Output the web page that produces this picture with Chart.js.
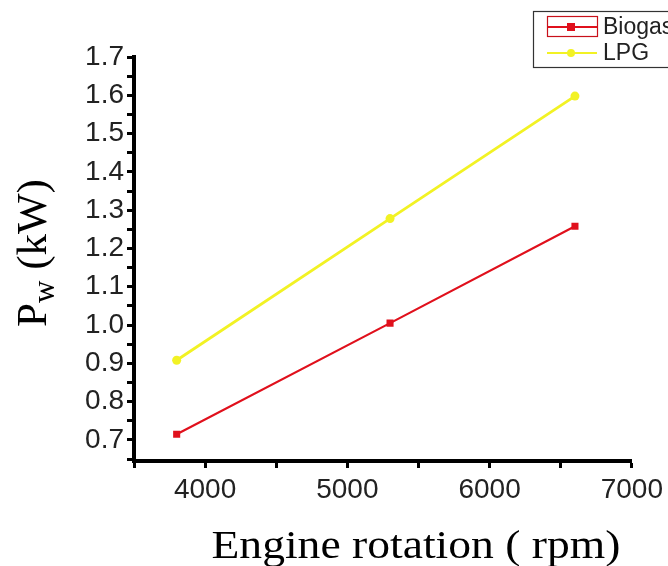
<!DOCTYPE html>
<html>
<head>
<meta charset="utf-8">
<script src="https://cdn.jsdelivr.net/npm/chart.js@4.4.1/dist/chart.umd.min.js"></script>
<style>
html,body{margin:0;padding:0;background:#fff;}
canvas{display:block;}
</style>
</head>
<body>
<canvas id="c" width="668" height="566"></canvas>
<script>
// ---- data ----
const engineRpm = [3800, 5300, 6600];
const biogasPw = [0.715, 1.005, 1.258];
const lpgPw = [0.908, 1.278, 1.598];
const xTickValues = [3500, 4000, 4500, 5000, 5500, 6000, 6500, 7000];
const yTickValues = [0.65, 0.70, 0.75, 0.80, 0.85, 0.90, 0.95, 1.00, 1.05, 1.10, 1.15, 1.20, 1.25, 1.30, 1.35, 1.40, 1.45, 1.50, 1.55, 1.60, 1.65, 1.70];
const seriesNames = ['Biogas', 'LPG'];
const xTitle = 'Engine rotation ( rpm)';
const yTitleMain = 'P';
const yTitleSub = 'w';
const yTitleRest = ' (kW)';

const RED = '#e0101c';
const YELLOW = '#f2f224';

const titlesPlugin = {
  id: 'titles',
  afterDraw(chart) {
    const ctx = chart.ctx;
    ctx.save();
    ctx.fillStyle = '#000';
    // x title
    ctx.font = '40px "Liberation Serif"';
    ctx.textAlign = 'center';
    ctx.textBaseline = 'alphabetic';
    ctx.save();
    ctx.translate(416, 558);
    ctx.scale(1.14, 1);
    ctx.fillText(xTitle, 0, 0);
    ctx.restore();
    // y title (rotated)
    ctx.save();
    const mainFont = '43px "Liberation Serif"';
    const subFont = '31px "Liberation Serif"';
    ctx.font = mainFont;
    const wP = ctx.measureText(yTitleMain).width;
    const wR = ctx.measureText(yTitleRest).width;
    ctx.font = subFont;
    const wS = ctx.measureText(yTitleSub).width;
    const total = wP + wS + wR;
    ctx.translate(46, 253 + total / 2);
    ctx.rotate(-Math.PI / 2);
    ctx.textAlign = 'left';
    ctx.textBaseline = 'alphabetic';
    ctx.font = mainFont;
    ctx.fillText(yTitleMain, 0, 0);
    ctx.font = subFont;
    ctx.fillText(yTitleSub, wP, 8);
    ctx.font = mainFont;
    ctx.fillText(yTitleRest, wP + wS, 0);
    ctx.restore();
    ctx.restore();
  }
};

const legendPlugin = {
  id: 'customLegend',
  afterDraw(chart) {
    const ctx = chart.ctx;
    ctx.save();
    ctx.strokeStyle = '#333';
    ctx.lineWidth = 1.2;
    ctx.strokeRect(533.5, 11.5, 150, 56);
    const rows = [27, 53];
    chart.data.datasets.forEach((ds, i) => {
      const y = rows[i];
      ctx.strokeStyle = ds.borderColor;
      ctx.lineWidth = 2;
      ctx.beginPath();
      ctx.moveTo(547, y);
      ctx.lineTo(597, y);
      ctx.stroke();
      ctx.fillStyle = ds.backgroundColor;
      if (ds.pointStyle === 'rect') {
        ctx.fillRect(567, y - 4, 8, 8);
        ctx.strokeStyle = '#c8101a';
        ctx.lineWidth = 1.2;
        ctx.strokeRect(547.5, 16.5, 50, 20);
      } else {
        ctx.beginPath();
        ctx.arc(571, y, 4, 0, Math.PI * 2);
        ctx.fill();
      }
      ctx.fillStyle = '#222';
      ctx.font = '23px "Liberation Sans"';
      ctx.textAlign = 'left';
      ctx.textBaseline = 'middle';
      ctx.fillText(ds.label, 603, y + 1);
    });
    ctx.restore();
  }
};

const tickFont = { family: 'Liberation Sans', size: 28 };

new Chart(document.getElementById('c'), {
  type: 'line',
  data: {
    datasets: [
      {
        label: seriesNames[0],
        data: engineRpm.map((x, i) => ({ x: x, y: biogasPw[i] })),
        borderColor: RED,
        backgroundColor: RED,
        borderWidth: 2.2,
        pointStyle: 'rect',
        pointRadius: 5,
        pointBorderWidth: 0,
        tension: 0
      },
      {
        label: seriesNames[1],
        data: engineRpm.map((x, i) => ({ x: x, y: lpgPw[i] })),
        borderColor: YELLOW,
        backgroundColor: YELLOW,
        borderWidth: 2.8,
        pointStyle: 'circle',
        pointRadius: 4.5,
        pointBorderWidth: 0,
        tension: 0
      }
    ]
  },
  options: {
    responsive: false,
    animation: false,
    devicePixelRatio: 1,
    layout: { padding: { top: 57, right: 35, left: 0, bottom: 0 } },
    plugins: { legend: { display: false }, tooltip: { enabled: false } },
    scales: {
      x: {
        type: 'linear',
        min: 3500,
        max: 7000,
        afterBuildTicks: (s) => { s.ticks = xTickValues.map(v => ({ value: v })); },
        afterFit: (s) => { s.height = 105; },
        ticks: {
          autoSkip: false,
          maxRotation: 0,
          callback: (v) => (v % 1000 === 0 ? String(v) : ''),
          font: tickFont,
          color: '#222',
          padding: 5
        },
        grid: { drawOnChartArea: false, drawTicks: true, tickLength: 7, tickWidth: 3, tickColor: '#000' },
        border: { display: true, color: '#000', width: 4 }
      },
      y: {
        type: 'linear',
        min: 0.645,
        max: 1.7,
        afterBuildTicks: (s) => { s.ticks = yTickValues.map(v => ({ value: v })); },
        afterFit: (s) => { s.width = 134; },
        ticks: {
          autoSkip: false,
          callback: (v) => (Math.abs(Math.round(v * 10) - v * 10) < 1e-6 ? v.toFixed(1) : ''),
          font: tickFont,
          color: '#222',
          padding: 3
        },
        grid: { drawOnChartArea: false, drawTicks: true, tickLength: 7, tickWidth: 3, tickColor: '#000' },
        border: { display: true, color: '#000', width: 4 }
      }
    }
  },
  plugins: [titlesPlugin, legendPlugin]
});
</script>
</body>
</html>
